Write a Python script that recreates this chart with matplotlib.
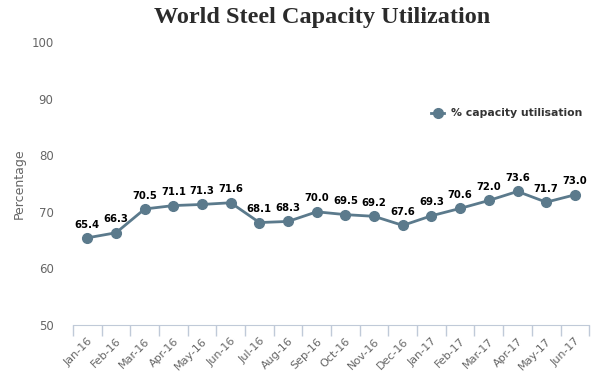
import numpy as np
import matplotlib.pyplot as plt

months = ['Jan-16', 'Feb-16', 'Mar-16', 'Apr-16', 'May-16', 'Jun-16',
          'Jul-16', 'Aug-16', 'Sep-16', 'Oct-16', 'Nov-16', 'Dec-16',
          'Jan-17', 'Feb-17', 'Mar-17', 'Apr-17', 'May-17', 'Jun-17']
utilisation = [65.4, 66.3, 70.5, 71.1, 71.3, 71.6, 68.1, 68.3, 70.0,
               69.5, 69.2, 67.6, 69.3, 70.6, 72.0, 73.6, 71.7, 73.0]
y_ticks = [50, 60, 70, 80, 90, 100]

line_color = '#5b7a8c'
axis_color = '#c0cad8'
text_gray = '#666666'

fig = plt.figure(figsize=(6, 3.8), dpi=100)
ax = fig.add_axes([0.1217, 0.1447, 0.8603, 0.7448])

x = np.arange(len(months))
ax.plot(x, utilisation, color=line_color, linewidth=2, marker='o',
        markersize=7, label='% capacity utilisation', zorder=3)

for xi, v in zip(x, utilisation):
    ax.annotate(f'{v:.1f}', (xi, v), xytext=(0, 6), textcoords='offset points',
                ha='center', va='bottom', fontsize=7.3, fontweight='bold',
                color='black')

ax.set_xlim(-0.5, len(months) - 0.5)
ax.set_ylim(50, 100)
ax.set_yticks(y_ticks)
ax.tick_params(axis='y', length=0, pad=14, labelsize=8.5, labelcolor=text_gray)

# category labels at centres, tick marks on category boundaries
ax.set_xticks(x)
ax.set_xticklabels(months, rotation=45, ha='right', rotation_mode='anchor',
                   fontsize=8, color=text_gray)
ax.tick_params(axis='x', length=0, pad=8)
ax.set_xticks(np.arange(-0.5, len(months), 1), minor=True)
ax.tick_params(axis='x', which='minor', length=8, color=axis_color, width=1)

for side in ['top', 'right', 'left']:
    ax.spines[side].set_visible(False)
ax.spines['bottom'].set_color(axis_color)

ax.set_ylabel('Percentage', fontsize=9, color=text_gray, labelpad=4)

fig.text(0.537, 0.955, 'World Steel Capacity Utilization', ha='center',
         va='center', fontsize=17.5, fontweight='bold',
         family='Liberation Serif', color='#2b2b2b')

leg = ax.legend(loc='upper right', bbox_to_anchor=(1.005, 0.8), frameon=False,
                prop={'size': 7.8, 'weight': 'bold'},
                handlelength=1.2, handletextpad=0.6)
for t in leg.get_texts():
    t.set_color('#333333')

fig.savefig('out.png', dpi=100)
